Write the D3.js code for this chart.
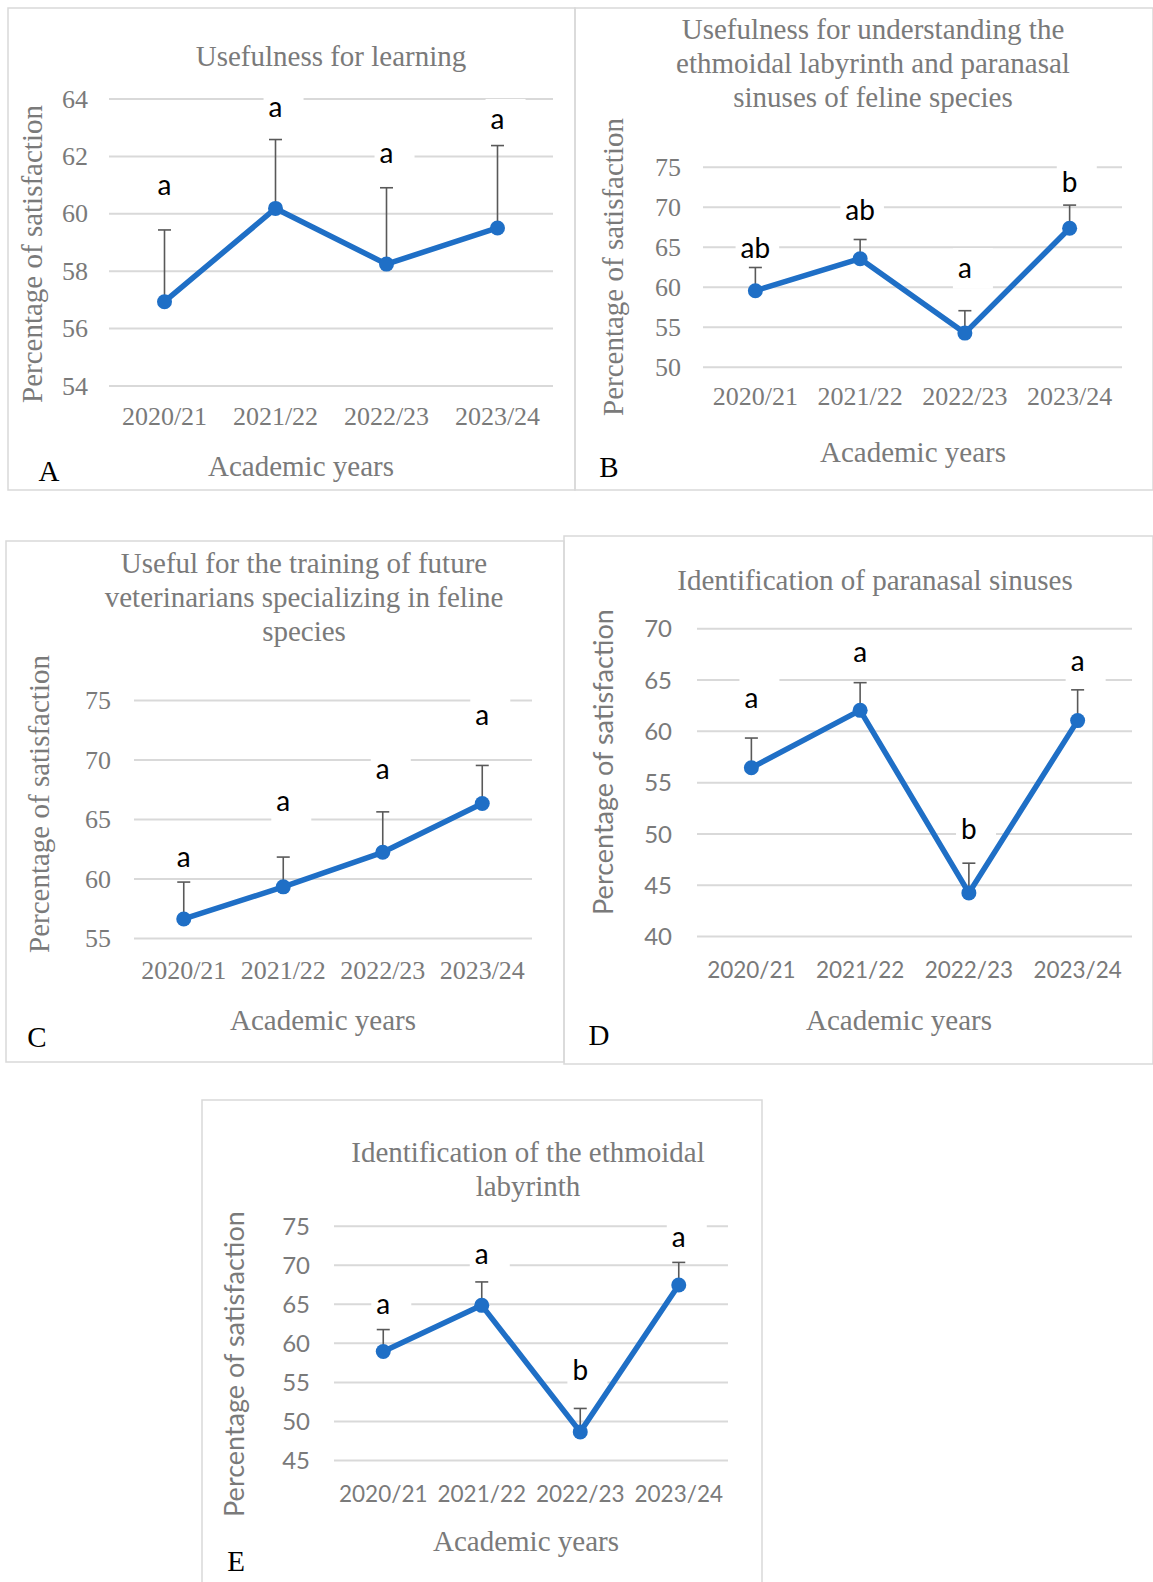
<!DOCTYPE html>
<html lang="en">
<head>
<meta charset="UTF-8">
<title>Percentage of satisfaction by academic year</title>
<script src="https://d3js.org/d3.v7.min.js"></script>
<style>
  body { margin: 0; background: #fff; }
  svg { display: block; }
  .serif { font-family: "Liberation Serif", "Times New Roman", serif; }
  .sans { font-family: Lato, "Open Sans", sans-serif; }
</style>
</head>
<body>
<div id="chart"></div>
<script>
// shared categories
const years = ["2020/21", "2021/22", "2022/23", "2023/24"];

// A - usefulness for learning
const titleA = ["Usefulness for learning"];
const ticksA = [54, 56, 58, 60, 62, 64];
const meanA = [56.92, 60.17, 58.23, 59.49];
const seA = [2.50, 2.40, 2.66, 2.87];
const letterA = ["a", "a", "a", "a"];
const letterAtA = [60.9, 63.6, 62.0, 63.2];

// B - understanding the ethmoidal labyrinth and sinuses
const titleB = ["Usefulness for understanding the", "ethmoidal labyrinth and paranasal", "sinuses of feline species"];
const ticksB = [50, 55, 60, 65, 70, 75];
const meanB = [59.5, 63.5, 54.2, 67.3];
const seB = [2.9, 2.4, 2.8, 2.9];
const letterB = ["ab", "ab", "a", "b"];
const letterAtB = [64.9, 69.6, 62.0, 73.1];

// C - training of future veterinarians
const titleC = ["Useful for the training of future", "veterinarians specializing in feline", "species"];
const ticksC = [55, 60, 65, 70, 75];
const meanC = [56.6, 59.3, 62.2, 66.3];
const seC = [3.1, 2.5, 3.4, 3.2];
const letterC = ["a", "a", "a", "a"];
const letterAtC = [61.6, 66.3, 69.0, 73.5];

// D - identification of paranasal sinuses
const titleD = ["Identification of paranasal sinuses"];
const ticksD = [40, 45, 50, 55, 60, 65, 70];
const meanD = [56.4, 62.0, 44.2, 61.0];
const seD = [2.9, 2.7, 2.9, 3.0];
const letterD = ["a", "a", "b", "a"];
const letterAtD = [62.9, 67.4, 50.4, 66.5];

// E - identification of the ethmoidal labyrinth
const titleE = ["Identification of the ethmoidal", "labyrinth"];
const ticksE = [45, 50, 55, 60, 65, 70, 75];
const meanE = [58.9, 64.8, 48.6, 67.4];
const seE = [2.8, 3.0, 3.0, 2.9];
const letterE = ["a", "a", "b", "a"];
const letterAtE = [64.6, 71.0, 56.5, 73.2];

const gray = "#7a7a7a";
const blue = "#1f6fc6";

const svg = d3.select("#chart").append("svg")
    .attr("width", 1153)
    .attr("height", 1582);

svg.append("rect").attr("width", 1153).attr("height", 1582).attr("fill", "#fff");

// layout of each panel (pixel positions only)
const panels = [
  { name: "A", title: titleA, ticks: ticksA, mean: meanA, se: seA, letters: letterA, letterAt: letterAtA,
    box: [8, 8, 575, 490], x0: 109, x1: 553, yTop: 98.5, yBottom: 385.5,
    titleX: 331, titleY: 57.5, xTickY: 416.5, xTitle: [301, 467.5], yTitle: [33, 254], tickRight: 88,
    letter: [49, 471], tickFont: "serif", yFont: "serif" },
  { name: "B", title: titleB, ticks: ticksB, mean: meanB, se: seB, letters: letterB, letterAt: letterAtB,
    box: [575, 8, 1153, 490], x0: 703, x1: 1122, yTop: 166.7, yBottom: 366.7,
    titleX: 873, titleY: 30.5, xTickY: 396.5, xTitle: [913, 453], yTitle: [614, 267], tickRight: 681,
    letter: [609, 467], tickFont: "serif", yFont: "serif" },
  { name: "C", title: titleC, ticks: ticksC, mean: meanC, se: seC, letters: letterC, letterAt: letterAtC,
    box: [6, 541, 564, 1062], x0: 134, x1: 532, yTop: 700, yBottom: 938,
    titleX: 304, titleY: 564, xTickY: 970.5, xTitle: [323, 1021], yTitle: [40, 804], tickRight: 111,
    letter: [37, 1037], tickFont: "serif", yFont: "serif" },
  { name: "D", title: titleD, ticks: ticksD, mean: meanD, se: seD, letters: letterD, letterAt: letterAtD,
    box: [564, 536, 1153, 1064], x0: 697, x1: 1132, yTop: 628.3, yBottom: 936,
    titleX: 875, titleY: 581, xTickY: 969.5, xTitle: [899, 1021], yTitle: [605, 762], tickRight: 672,
    letter: [599, 1035], tickFont: "sans", yFont: "sans" },
  { name: "E", title: titleE, ticks: ticksE, mean: meanE, se: seE, letters: letterE, letterAt: letterAtE,
    box: [202, 1100, 762, 1600], x0: 334, x1: 728, yTop: 1225.7, yBottom: 1460,
    titleX: 528, titleY: 1153, xTickY: 1494, xTitle: [526, 1542], yTitle: [236, 1364], tickRight: 310,
    letter: [236, 1561], tickFont: "sans", yFont: "sans" }
];

function drawPanel(p) {
  const g = svg.append("g");
  const serifTicks = p.tickFont === "serif";

  // frame
  g.append("rect")
      .attr("x", p.box[0]).attr("y", p.box[1])
      .attr("width", p.box[2] - p.box[0]).attr("height", p.box[3] - p.box[1])
      .attr("fill", "none").attr("stroke", "#d9d9d9").attr("stroke-width", 1.5);

  const x = d3.scaleBand().domain(years).range([p.x0, p.x1]);
  const y = d3.scaleLinear().domain(d3.extent(p.ticks)).range([p.yBottom, p.yTop]);
  const cx = d => x(d) + x.bandwidth() / 2;

  // y axis: gridlines + tick labels
  const yAxis = g.append("g")
      .attr("transform", `translate(${p.x0},0)`)
      .call(d3.axisLeft(y).tickValues(p.ticks).tickSize(-(p.x1 - p.x0)).tickPadding(p.x0 - p.tickRight));
  yAxis.select(".domain").remove();
  yAxis.attr("font-family", null).attr("font-size", null);
  yAxis.selectAll("line").attr("stroke", "#d9d9d9").attr("stroke-width", 2);
  yAxis.selectAll("text")
      .attr("class", p.tickFont)
      .attr("font-size", serifTicks ? 26 : 24)
      .attr("fill", gray)
      .attr("dy", serifTicks ? "0.33em" : "0.36em");

  // x axis labels
  const xAxis = g.append("g")
      .attr("transform", `translate(0,${p.xTickY})`)
      .call(d3.axisBottom(x).tickSize(0).tickPadding(0));
  xAxis.select(".domain").remove();
  xAxis.attr("font-family", null).attr("font-size", null);
  xAxis.selectAll("text")
      .attr("class", p.tickFont)
      .attr("font-size", serifTicks ? 26 : 22.5)
      .attr("fill", gray)
      .attr("y", 0)
      .attr("dy", serifTicks ? "0.33em" : "0.36em");

  // significance letters, with white boxes behind them (they break the gridlines)
  const labels = g.append("g");
  const texts = labels.selectAll("text")
      .data(p.letters)
      .join("text")
      .attr("class", "sans")
      .attr("font-size", 28)
      .attr("fill", "#000")
      .attr("text-anchor", "middle")
      .attr("x", (d, i) => cx(years[i]))
      .attr("y", (d, i) => y(p.letterAt[i]))
      .attr("dy", d => /b/.test(d) ? "0.36em" : "0.26em")
      .text(d => d);
  texts.each(function(d, i) {
    const w = this.getComputedTextLength();
    const xc = cx(years[i]);
    const yc = y(p.letterAt[i]);
    g.insert("rect", () => labels.node())
        .attr("x", xc - w / 2 - 5)
        .attr("y", yc - 22.5)
        .attr("width", Math.max(w + 14, 40))
        .attr("height", 40.5)
        .attr("fill", "#fff");
  });

  // error bars (upper only)
  const err = g.insert("g", () => labels.node());
  p.mean.forEach((m, i) => {
    const xc = cx(years[i]);
    err.append("line")
        .attr("x1", xc).attr("x2", xc)
        .attr("y1", y(m)).attr("y2", y(m + p.se[i]))
        .attr("stroke", "#595959").attr("stroke-width", 1.6);
    err.append("line")
        .attr("x1", xc - 6.5).attr("x2", xc + 6.5)
        .attr("y1", y(m + p.se[i])).attr("y2", y(m + p.se[i]))
        .attr("stroke", "#595959").attr("stroke-width", 1.6);
  });

  // series line + markers
  const line = d3.line()
      .x((d, i) => cx(years[i]))
      .y(d => y(d));

  g.insert("path", () => labels.node())
      .datum(p.mean)
      .attr("fill", "none")
      .attr("stroke", blue)
      .attr("stroke-width", 5.5)
      .attr("stroke-linejoin", "round")
      .attr("d", line);

  const dots = g.insert("g", () => labels.node());
  dots.selectAll("circle")
      .data(p.mean)
      .join("circle")
      .attr("cx", (d, i) => cx(years[i]))
      .attr("cy", d => y(d))
      .attr("r", 7.5)
      .attr("fill", blue);

  // chart title
  g.append("text")
      .attr("class", "serif")
      .attr("font-size", 29)
      .attr("fill", gray)
      .attr("text-anchor", "middle")
      .selectAll("tspan")
      .data(p.title)
      .join("tspan")
      .attr("x", p.titleX)
      .attr("y", (d, i) => p.titleY + i * 34)
      .attr("dy", "0.3em")
      .text(d => d);

  // axis titles
  g.append("text")
      .attr("class", "serif")
      .attr("font-size", 29)
      .attr("fill", gray)
      .attr("text-anchor", "middle")
      .attr("x", p.xTitle[0])
      .attr("y", p.xTitle[1])
      .attr("dy", "0.3em")
      .text("Academic years");

  g.append("text")
      .attr("class", p.yFont)
      .attr("font-size", p.yFont === "serif" ? 29 : 27)
      .attr("fill", gray)
      .attr("text-anchor", "middle")
      .attr("transform", `translate(${p.yTitle[0]},${p.yTitle[1]}) rotate(-90)`)
      .attr("dy", "0.3em")
      .text("Percentage of satisfaction");

  // panel letter
  g.append("text")
      .attr("class", "serif")
      .attr("font-size", 29)
      .attr("fill", "#000")
      .attr("text-anchor", "middle")
      .attr("x", p.letter[0])
      .attr("y", p.letter[1])
      .attr("dy", "0.33em")
      .text(p.name);
}

panels.forEach(drawPanel);
</script>
</body>
</html>
